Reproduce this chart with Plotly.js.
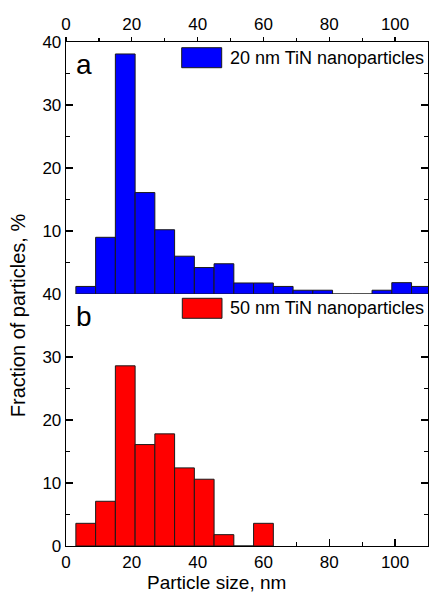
<!DOCTYPE html>
<html><head><meta charset="utf-8">
<script src="https://cdn.plot.ly/plotly-3.0.1.min.js"></script>
<style>html,body{margin:0;padding:0;background:#fff}</style>
</head><body><div id="chart" style="width:430px;height:593px"></div>
<script>
// Data (bin centres in nm, fraction of particles in %)
const binCenters20 = [6,12,18,24,30,36,42,48,54,60,66,72,78,84,90,96,102,108];
const fraction20   = [1.2,9.0,38.1,16.1,10.2,6.0,4.2,4.8,1.75,1.75,1.2,0.6,0.6,0,0,0.6,1.8,1.2];
const binCenters50 = [6,12,18,24,30,36,42,48,54,60];
const fraction50   = [3.6,7.1,28.6,16.1,17.8,12.4,10.6,1.8,0,3.6];
const seriesNames  = ["20 nm TiN nanoparticles", "50 nm TiN nanoparticles"];
const panelLetters = ["a", "b"];
const xTickVals    = [0,20,40,60,80,100];
const yTickValsTop = [10,20,30,40];
const yTickValsBot = [0,10,20,30,40];
const xMinorVals   = [10,30,50,70,90];
const yMinorVals   = [5,15,25,35];

const FONT = "Liberation Sans, Arial, sans-serif";
const colors = ["#0000ff", "#ff0000"];

const traces = [
  {type:"bar", x:binCenters20, y:fraction20, xaxis:"x", yaxis:"y", name:seriesNames[0],
   marker:{color:colors[0], line:{color:"#1a1a1a", width:1}}, showlegend:false, hoverinfo:"skip"},
  {type:"bar", x:binCenters50, y:fraction50, xaxis:"x2", yaxis:"y2", name:seriesNames[1],
   marker:{color:colors[1], line:{color:"#1a1a1a", width:1}}, showlegend:false, hoverinfo:"skip"}
];

const commonAx = {
  showgrid:false, zeroline:false, showline:true, linecolor:"#000", linewidth:1.3,
  tickcolor:"#000", tickwidth:1.2, tickfont:{family:FONT, size:17, color:"#000"},
  layer:"below traces"
};

const layout = {
  width:430, height:593,
  margin:{l:66, r:2, t:42, b:47},
  paper_bgcolor:"#fff", plot_bgcolor:"#fff",
  bargap:0,
  font:{family:FONT, color:"#000"},
  xaxis: Object.assign({}, commonAx, {
    domain:[0,1], anchor:"y", side:"top", range:[0,110],
    tickmode:"array", tickvals:xTickVals, ticks:"outside", ticklen:4,
    minor:{tickmode:"array", tickvals:xMinorVals, ticks:"outside", ticklen:3, tickcolor:"#000"}
  }),
  xaxis3: Object.assign({}, commonAx, {
    overlaying:"x", anchor:"y", side:"bottom", range:[0,110], linecolor:"#666",
    tickmode:"array", tickvals:xTickVals, ticks:"inside", ticklen:7, showticklabels:false,
    minor:{tickmode:"array", tickvals:xMinorVals, ticks:"inside", ticklen:4, tickcolor:"#000"}
  }),
  yaxis: Object.assign({}, commonAx, {
    domain:[0.5,1], anchor:"x", range:[0,40],
    tickmode:"array", tickvals:yTickValsTop, ticks:"inside", ticklen:7, mirror:"ticks",
    minor:{tickmode:"array", tickvals:yMinorVals, ticks:"inside", ticklen:4, tickcolor:"#000"}
  }),
  xaxis2: Object.assign({}, commonAx, {
    domain:[0,1], anchor:"y2", side:"bottom", range:[0,110],
    tickmode:"array", tickvals:xTickVals, ticks:"inside", ticklen:7,
    minor:{tickmode:"array", tickvals:xMinorVals, ticks:"inside", ticklen:4, tickcolor:"#000"}
  }),
  yaxis2: Object.assign({}, commonAx, {
    domain:[0,0.5], anchor:"x2", range:[0,40],
    tickmode:"array", tickvals:yTickValsBot, ticks:"inside", ticklen:7, mirror:"ticks",
    minor:{tickmode:"array", tickvals:yMinorVals, ticks:"inside", ticklen:4, tickcolor:"#000"}
  }),
  shapes: [
    {type:"rect", xref:"paper", yref:"paper", x0:0.3196, x1:0.4301, y0:0.949, y1:0.9887,
     fillcolor:colors[0], line:{color:"#1a1a1a", width:1}},
    {type:"rect", xref:"paper", yref:"paper", x0:0.3213, x1:0.4309, y0:0.4518, y1:0.4915,
     fillcolor:colors[1], line:{color:"#1a1a1a", width:1}}
  ],
  annotations: [
    {xref:"paper", yref:"paper", x:0.4467, y:0.9689, xanchor:"left", yanchor:"middle",
     text:seriesNames[0], showarrow:false, font:{family:FONT, size:18, color:"#000"}},
    {xref:"paper", yref:"paper", x:0.4484, y:0.4716, xanchor:"left", yanchor:"middle",
     text:seriesNames[1], showarrow:false, font:{family:FONT, size:18, color:"#000"}},
    {xref:"paper", yref:"paper", x:0.022, y:0.99, xanchor:"left", yanchor:"top",
     text:panelLetters[0], showarrow:false, font:{family:FONT, size:28, color:"#000"}},
    {xref:"paper", yref:"paper", x:0.022, y:0.49, xanchor:"left", yanchor:"top",
     text:panelLetters[1], showarrow:false, font:{family:FONT, size:28, color:"#000"}},
    {xref:"paper", yref:"paper", x:-0.1326, y:0.458, xanchor:"center", yanchor:"middle",
     textangle:-90, text:"Fraction of particles, %", showarrow:false,
     font:{family:FONT, size:20, color:"#000"}},
    {xref:"paper", yref:"paper", x:0.417, y:-0.0734, xanchor:"center", yanchor:"middle",
     text:"Particle size, nm", showarrow:false, font:{family:FONT, size:19, color:"#000"}}
  ]
};

Plotly.newPlot("chart", traces, layout, {displayModeBar:false, staticPlot:true});
</script></body></html>
